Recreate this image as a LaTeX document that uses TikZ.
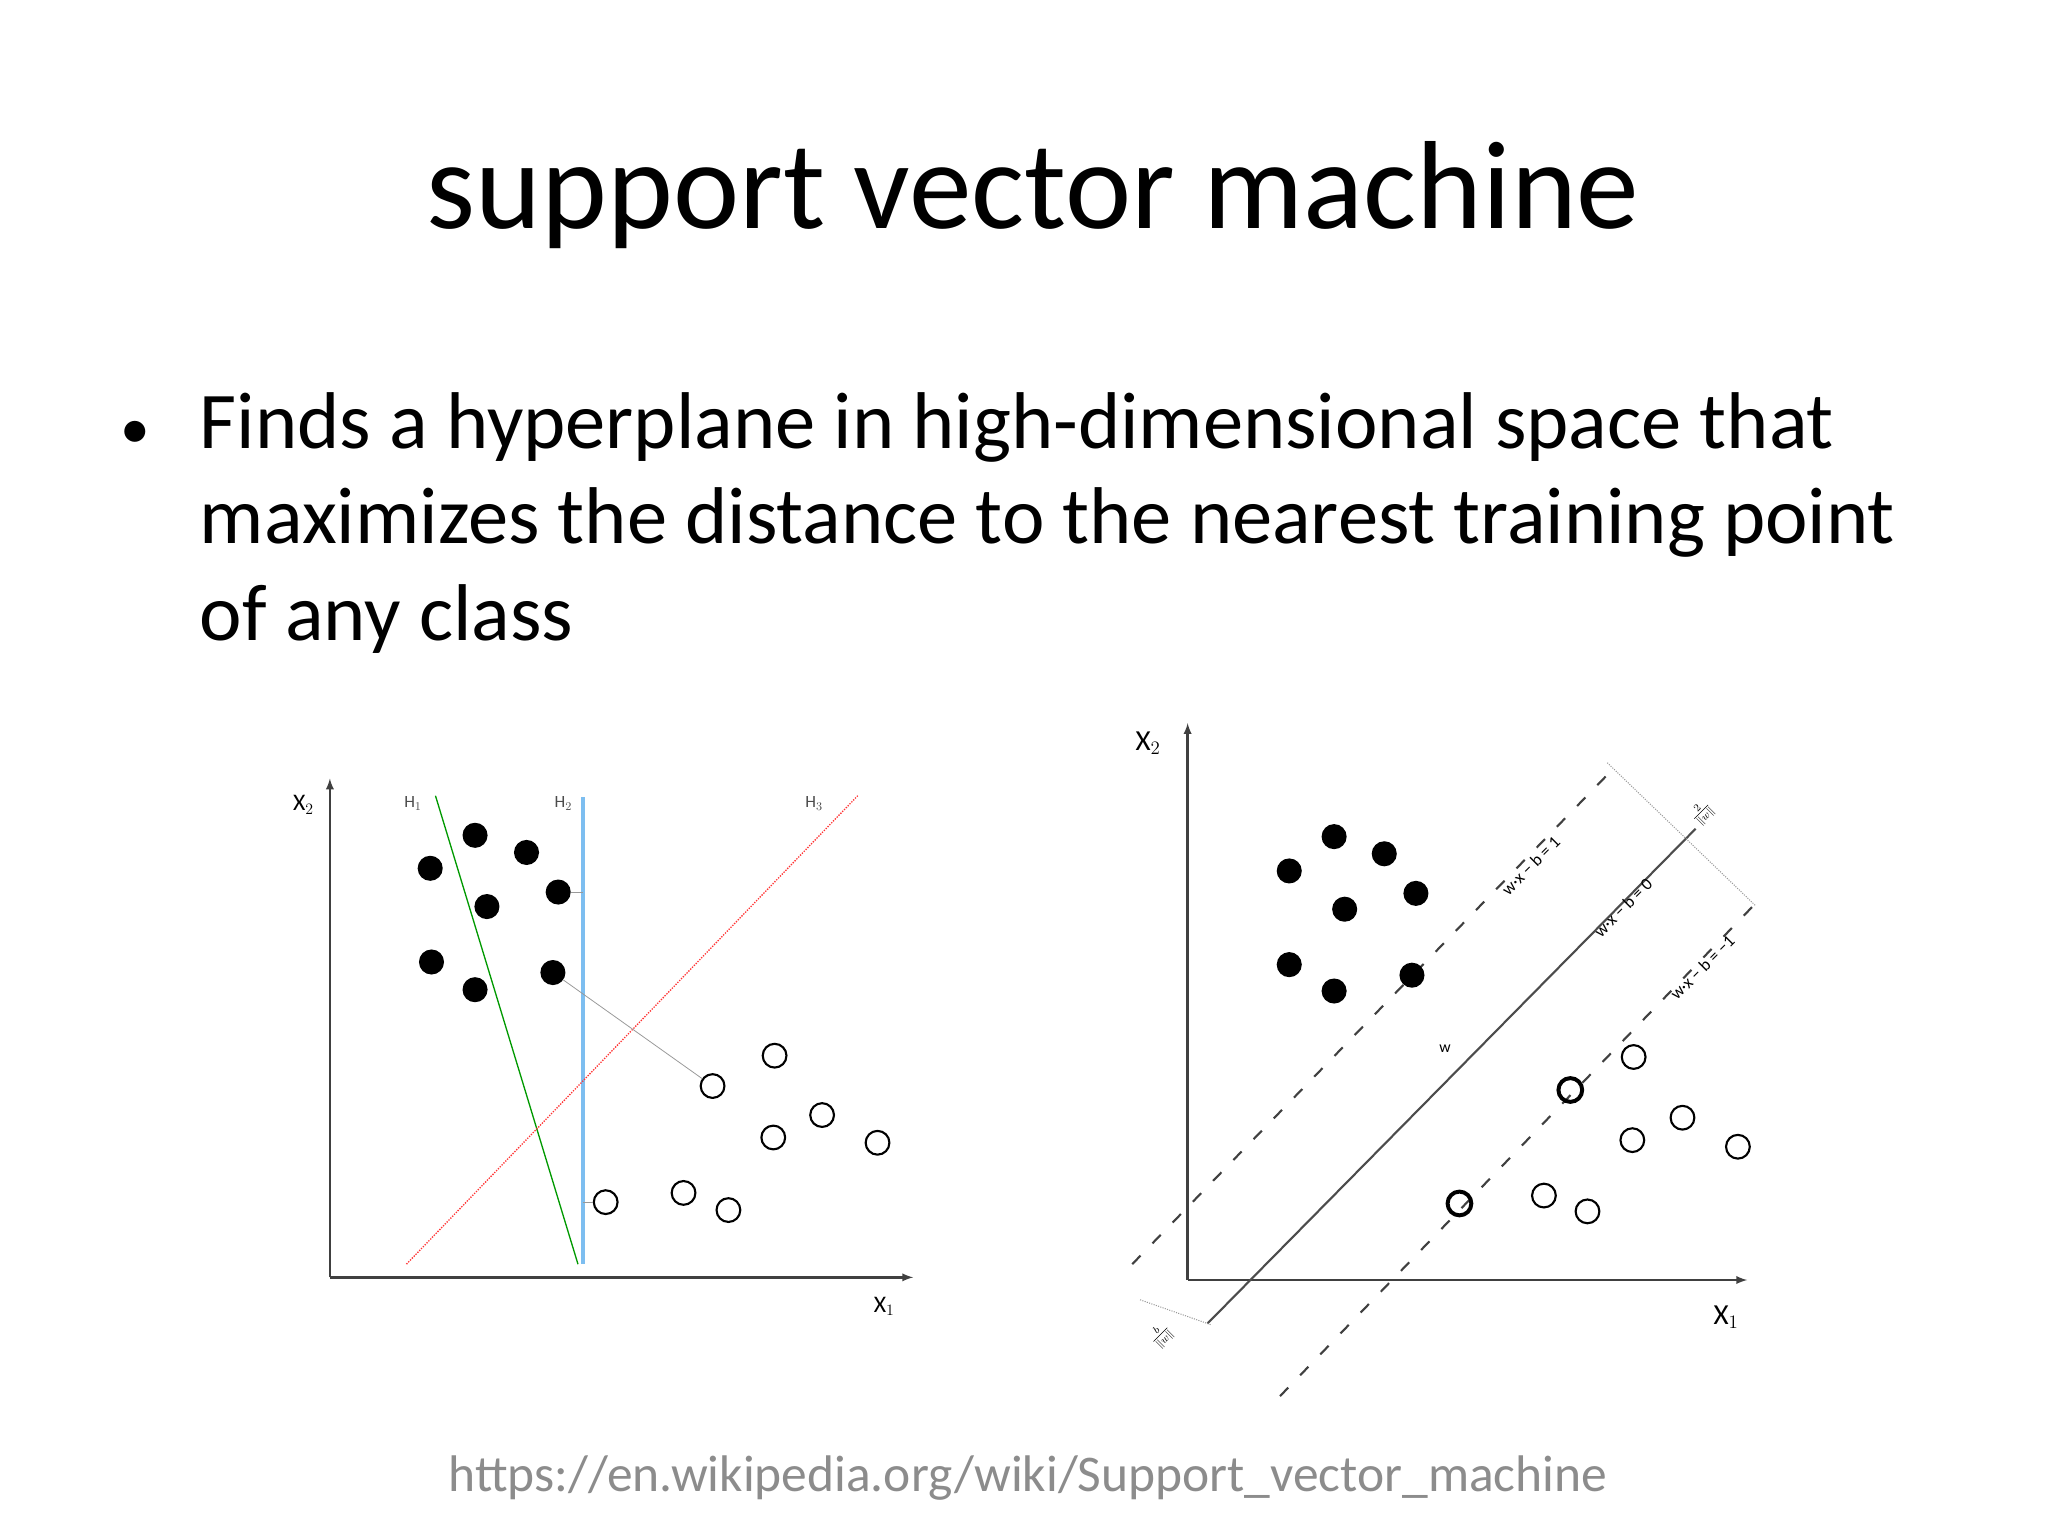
\documentclass[tikz,border=0pt]{standalone}
\usepackage{fontspec}
\setmainfont{Carlito}
\definecolor{hblue}{RGB}{125,190,240}
\begin{document}
\begin{tikzpicture}[x=1pt,y=-1pt,
  bdot/.style={circle,fill=black,inner sep=0pt,minimum size=19pt},
  odot/.style={circle,draw=black,line width=1.6pt,inner sep=0pt,minimum size=18pt},
  sdot/.style={circle,draw=black,line width=3pt,inner sep=0pt,minimum size=18pt},
  ax/.style={line width=1.8pt,-latex,draw=black!75},
  lab/.style={font=\fontsize{18}{20}\selectfont},
  small/.style={font=\fontsize{13}{14}\selectfont,text=black!70},
  rl/.style={rotate=45,font=\fontsize{13}{14}\selectfont,inner sep=1pt}]
\useasboundingbox (0,0) rectangle (1552,1164);
\node (title) at (783,148) {\fontsize{95}{100}\selectfont support vector machine};
\node[anchor=base west] (bul) at (88,340) {\fontsize{45}{50}\selectfont •};
\node[anchor=base west] (l1) at (148,340) {\fontsize{61}{70}\selectfont Finds a hyperplane in high-dimensional space that};
\node[anchor=base west] (l2) at (148,412) {\fontsize{61}{70}\selectfont maximizes the distance to the nearest training point};
\node[anchor=base west] (l3) at (148,485) {\fontsize{61}{70}\selectfont of any class};
\node[anchor=base] (url) at (779,1130) {\color{black!45}\fontsize{39}{42}\selectfont https://en.wikipedia.org/wiki/Support\_vector\_machine};
% left
\coordinate (lo) at (250,968);
\coordinate (lx) at (692,968);
\coordinate (ly) at (250,590);
\draw[ax] (lo) -- (lx);
\draw[ax] (lo) -- (ly);
\node[lab] (lx2) at (230,610) {X$_2$};
\node[lab] (lx1) at (670,990) {X$_1$};
\coordinate (h1a) at (330,603); \coordinate (h1b) at (438,958);
\coordinate (h2a) at (442,604); \coordinate (h2b) at (442,958);
\coordinate (h3a) at (308,958); \coordinate (h3b) at (650,603);
\draw[green!60!black,line width=1pt] (h1a) -- (h1b);
\draw[hblue,line width=3pt] (h2a) -- (h2b);
\draw[red!80,line width=1pt,densely dotted] (h3a) -- (h3b);
\node[small] (lh1) at (313,609) {H$_1$};
\node[small] (lh2) at (427,609) {H$_2$};
\node[small] (lh3) at (617,609) {H$_3$};
\foreach \n/\x/\y in {a1/326/658,a2/360/633,a3/399/646,a4/369/687,a5/423/676,a6/327/729,a7/360/750,a8/419/737}
  \node[bdot] (\n) at (\x,\y) {};
\foreach \n/\x/\y in {b1/587/800,b2/540/823,b3/623/845,b4/586/862,b5/665/866,b6/459/911,b7/518/904,b8/552/917}
  \node[odot] (\n) at (\x,\y) {};
\draw[black!40,line width=0.6pt] (a5) -- (442,676);
\draw[black!40,line width=0.6pt] (b6) -- (442,911);
\draw[black!40,line width=0.6pt] (a8) -- (b2);
% right
\coordinate (ro) at (900,970);
\coordinate (rx) at (1324,970);
\coordinate (ry) at (900,548);
\draw[ax] (ro) -- (rx);
\draw[ax] (ro) -- (ry);
\node[font=\fontsize{22}{24}\selectfont] (rx2) at (870,563) {X$_2$};
\node[font=\fontsize{22}{24}\selectfont] (rx1) at (1308,998) {X$_1$};
\coordinate (s0a) at (915,1003); \coordinate (s0b) at (1285,628);
\coordinate (s1a) at (858,958); \coordinate (s1b) at (1225,580);
\coordinate (s2a) at (970,1058); \coordinate (s2b) at (1330,685);
\draw[black!70,line width=1.6pt] (s0a) -- (s0b);
\draw[black!75,line width=1.6pt,dash pattern=on 9pt off 13pt] (s1a) -- (s1b);
\draw[black!75,line width=1.6pt,dash pattern=on 9pt off 13pt] (s2a) -- (s2b);
\draw[black!40,densely dotted,line width=0.8pt] (1218,578) -- (1330,686);
\draw[black!40,densely dotted,line width=0.8pt] (864,985) -- (918,1004);
\node[rl] (lb1) at (1160,656) {w·x − b = 1};
\node[rl] (lb0) at (1230,688) {w·x − b = 0};
\node[rl] (lb2) at (1290,733) {w·x − b = −1};
\node[rl,font=\fontsize{12}{13}\selectfont] (mg) at (1290,616) {$\frac{2}{\|w\|}$};
\node[rl,font=\fontsize{12}{13}\selectfont] (bw) at (880,1012) {$\frac{b}{\|w\|}$};
\node[font=\fontsize{12}{13}\selectfont] (wl) at (1095,795) {w};
\foreach \n/\x/\y in {c1/977/660,c2/1011/634,c3/1049/647,c4/1073/677,c5/1019/689,c6/977/731,c7/1011/751,c8/1070/739}
  \node[bdot] (\n) at (\x,\y) {};
\foreach \n/\x/\y in {d1/1238/801,d3/1275/847,d4/1237/864,d5/1317/869,d7/1170/906,d8/1203/918}
  \node[odot] (\n) at (\x,\y) {};
\node[sdot] (d2) at (1190,826) {};
\node[sdot] (d6) at (1106,912) {};
\end{tikzpicture}
\end{document}
